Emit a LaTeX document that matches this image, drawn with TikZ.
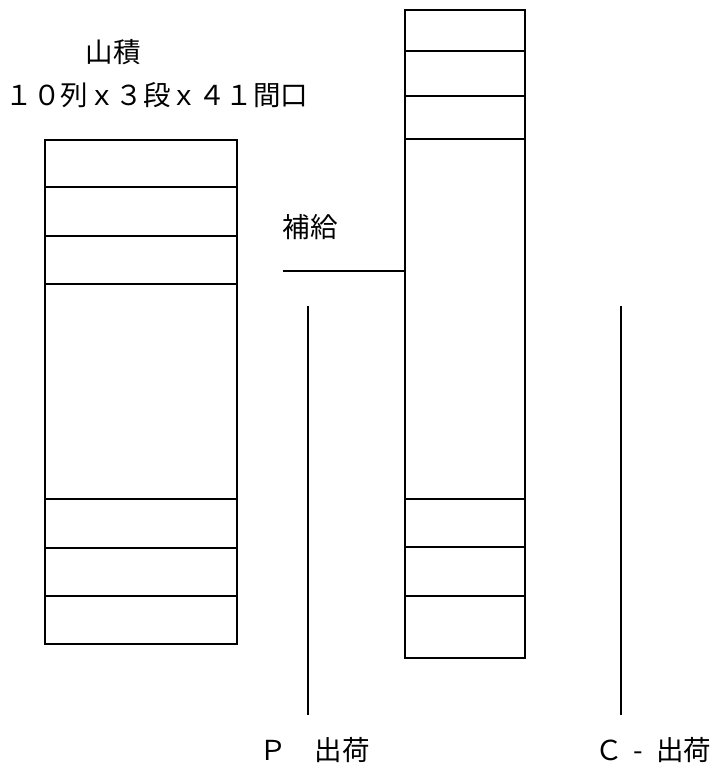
\documentclass[tikz,border=0pt]{standalone}
\usepackage{fontspec}
\setmainfont{Noto Sans CJK JP}
\begin{document}
\begin{tikzpicture}[x=1pt,y=-1pt,
  ln/.style={line width=1.7pt, black},
  lbl/.style={inner sep=0pt, font=\fontsize{27.5}{30}\selectfont},
  rack/.style={ln, draw, inner sep=0pt, anchor=north west}]
\useasboundingbox (0,0) rectangle (711,765);
% left rack
\node[rack, minimum width=192pt, minimum height=504pt] (L) at (44,139) {};
\foreach \y in {187,236,284,499,548,596}
  \draw[ln] (L.west |- 0,\y) -- (L.east |- 0,\y);
% right rack
\node[rack, minimum width=120pt, minimum height=648pt] (R) at (404,9) {};
\foreach \y in {51,96,139,499,547,596}
  \draw[ln] (R.west |- 0,\y) -- (R.east |- 0,\y);
% texts
\node[lbl] (t1) at (113,52) {山積};
\node[lbl] (t2) at (157,95) {１０列ｘ３段ｘ４１間口};
\node[lbl] (sup) at (310,227) {補給};
\node[lbl] (p) at (314.5,750) {Ｐ　出荷};
\node[lbl] (c) at (653.5,750) {Ｃ\hspace{10pt}-\hspace{13pt}出荷};
% supply line
\coordinate (s0) at (283,271);
\draw[ln] (s0) -- (R.west |- s0);
% shipment lines
\coordinate (p0) at (308,306);
\coordinate (p1) at (308,715);
\coordinate (c0) at (621,306);
\coordinate (c1) at (621,715);
\draw[ln] (p0) -- (p1);
\draw[ln] (c0) -- (c1);
\end{tikzpicture}
\end{document}
